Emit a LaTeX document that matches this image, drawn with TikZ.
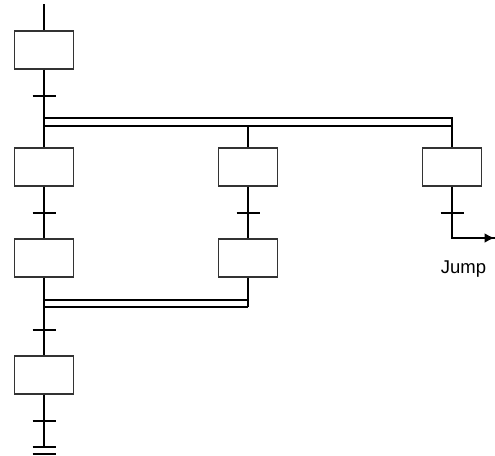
\documentclass[tikz,border=0pt]{standalone}
\usepackage{fontspec}
\setmainfont{Liberation Sans}
\usetikzlibrary{arrows.meta}
\begin{document}
\begin{tikzpicture}[x=1pt,y=-1pt,
  stepbox/.style={draw=black!80,line width=1.3pt,minimum width=59.5pt,minimum height=38pt,inner sep=0pt,fill=white},
  link/.style={line width=2pt},
  bar/.style={line width=2pt}]
\useasboundingbox (0,0) rectangle (495,455);
% steps
\node[stepbox] (b1) at (44,50) {};
\node[stepbox] (b2) at (44,167) {};
\node[stepbox] (b3) at (248,167) {};
\node[stepbox] (b4) at (452,167) {};
\node[stepbox] (b5) at (44,258) {};
\node[stepbox] (b6) at (248,258) {};
\node[stepbox] (b7) at (44,375) {};
% coordinates
\coordinate (top) at (44,4);
\coordinate (dUa) at (44,118);
\coordinate (dUb) at (452,118);
\coordinate (dLa) at (44,126);
\coordinate (dLb) at (452,126);
\coordinate (dM) at (248,126);
\coordinate (cUa) at (44,300);
\coordinate (cUb) at (248,300);
\coordinate (cLa) at (44,307);
\coordinate (cLb) at (248,307);
\coordinate (jc) at (452,238);
\coordinate (jt) at (494.5,238);
\coordinate (endp) at (44,447);
% connectors
\begin{scope}[link]
\draw (top) -- (b1.north);
\draw (b1.south) -- (b2.north);
\draw (dUa) -- (dUb) -- (b4.north);
\draw (dLa) -- (dLb);
\draw (dM) -- (b3.north);
\draw (b2.south) -- (b5.north);
\draw (b3.south) -- (b6.north);
\draw (b4.south) -- (jc) -- (jt);
\draw (b5.south) -- (b7.north);
\draw (cUa) -- (cUb);
\draw (cLa) -- (cLb);
\draw (b6.south) -- (cLb);
\draw (b7.south) -- (endp);
\end{scope}
\draw[line width=2pt,-{Latex[length=10pt,width=10pt]}] (jc) -- (jt);
% transitions
\foreach \x/\y in {44/96,44/213,248/213,452/213,44/330,44/421,44/447,44/454}
  \draw[bar] (\x-11.5,\y) -- (\x+11.5,\y);
% label
\node[anchor=base,font=\fontsize{18.5}{20}\selectfont,inner sep=0pt] (jump) at (463.5,273) {Jump};
\end{tikzpicture}
\end{document}
